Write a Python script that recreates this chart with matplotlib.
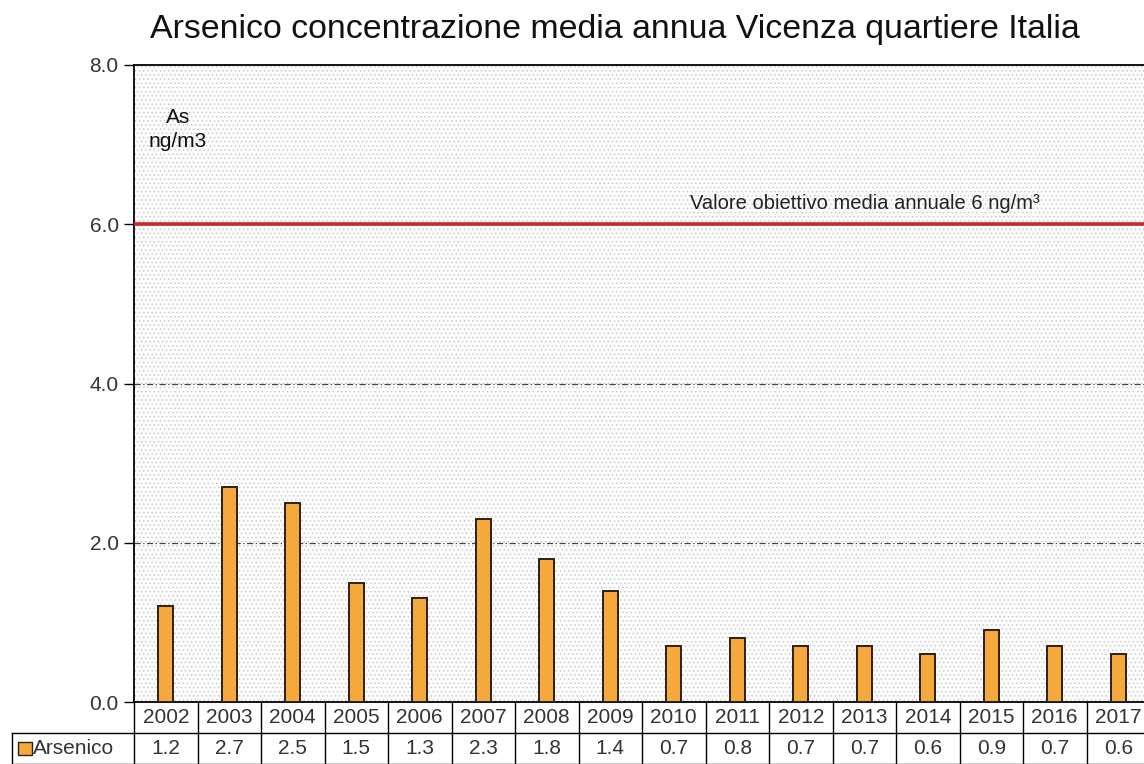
import matplotlib
matplotlib.use('Agg')
import matplotlib.pyplot as plt
from matplotlib.patches import Rectangle
from matplotlib.transforms import blended_transform_factory

# annual mean arsenic concentration, ng/m3
anni = ['2002', '2003', '2004', '2005', '2006', '2007', '2008', '2009',
        '2010', '2011', '2012', '2013', '2014', '2015', '2016', '2017']
arsenico = [1.2, 2.7, 2.5, 1.5, 1.3, 2.3, 1.8, 1.4,
            0.7, 0.8, 0.7, 0.7, 0.6, 0.9, 0.7, 0.6]
valore_obiettivo = 6.0
yticks = [0.0, 2.0, 4.0, 6.0, 8.0]

plt.rcParams['font.family'] = ['Liberation Sans', 'DejaVu Sans']
plt.rcParams['hatch.linewidth'] = 0.5

fig = plt.figure(figsize=(11.44, 7.64), dpi=100)
ax = fig.add_axes([134 / 1144, 1 - 702 / 764, 1016 / 1144, 637 / 764])

# stippled background
ax.set_facecolor('white')
bg = Rectangle((0, 0), 1, 1, transform=ax.transAxes, facecolor='#fcfcfc',
               edgecolor='#c6c6c6', hatch='....', lw=0, zorder=0)
ax.add_patch(bg)

x = list(range(len(anni)))
ax.bar(x, arsenico, width=0.23, color='#f5a93c', edgecolor='#2e2016',
       linewidth=1.4, zorder=3)

for g in [2.0, 4.0]:
    ax.axhline(g, color='#444444', lw=0.9, ls=(0, (5, 2, 1, 2)), zorder=2)
ax.axhline(valore_obiettivo, color='#c8262a', lw=2.6, zorder=4)
ax.text(8.26, valore_obiettivo + 0.19, 'Valore obiettivo media annuale 6 ng/m\u00b3',
        fontsize=14.5, color='#222222', ha='left', va='baseline', zorder=5)
ax.text(0.19, 7.19, 'As\nng/m3', fontsize=15, color='#111111', ha='center',
        va='center', linespacing=1.3, zorder=5)

ax.set_xlim(-0.5, len(anni) - 0.5)
ax.set_ylim(0, 8)
ax.set_yticks(yticks)
ax.set_yticklabels(['%.1f' % t for t in yticks], fontsize=15, color='#333333')
ax.tick_params(axis='y', direction='out', length=7, width=1, pad=4)
ax.set_xticks([])
for s in ['left', 'top', 'bottom']:
    ax.spines[s].set_linewidth(1.3)
    ax.spines[s].set_color('black')
ax.spines['right'].set_visible(False)

# data table under the axis
tr = blended_transform_factory(ax.transData, ax.transAxes)
rh = 31 / 637
left_cell = -0.5 - 122 / 63.5
kw = dict(transform=tr, clip_on=False, color='black', lw=1.0)
ax.plot([left_cell, len(anni) - 0.5], [-rh, -rh], **kw)
ax.plot([left_cell, len(anni) - 0.5], [-2 * rh, -2 * rh], **kw)
ax.plot([left_cell, left_cell], [-rh, -2 * rh], **kw)
for i in range(len(anni) + 1):
    ax.plot([i - 0.5, i - 0.5], [0, -2 * rh], **kw)
for i, (a, v) in enumerate(zip(anni, arsenico)):
    ax.text(i, -rh / 2, a, transform=tr, ha='center', va='center',
            fontsize=15, color='#333333')
    ax.text(i, -1.5 * rh, '%.1f' % v, transform=tr, ha='center', va='center',
            fontsize=15, color='#333333')
ax.add_patch(Rectangle((left_cell + 0.1, -1.5 * rh - 0.0095), 0.21, 0.019,
                       transform=tr, clip_on=False, facecolor='#f5a93c',
                       edgecolor='#2e2016', lw=1))
ax.text(left_cell + 0.33, -1.5 * rh, 'Arsenico', transform=tr, ha='left',
        va='center', fontsize=15, color='#333333')

fig.text(0.5376, 0.962, 'Arsenico concentrazione media annua Vicenza quartiere Italia',
         ha='center', va='center', fontsize=24.4, color='#111111')

fig.savefig('out.png', dpi=100)
